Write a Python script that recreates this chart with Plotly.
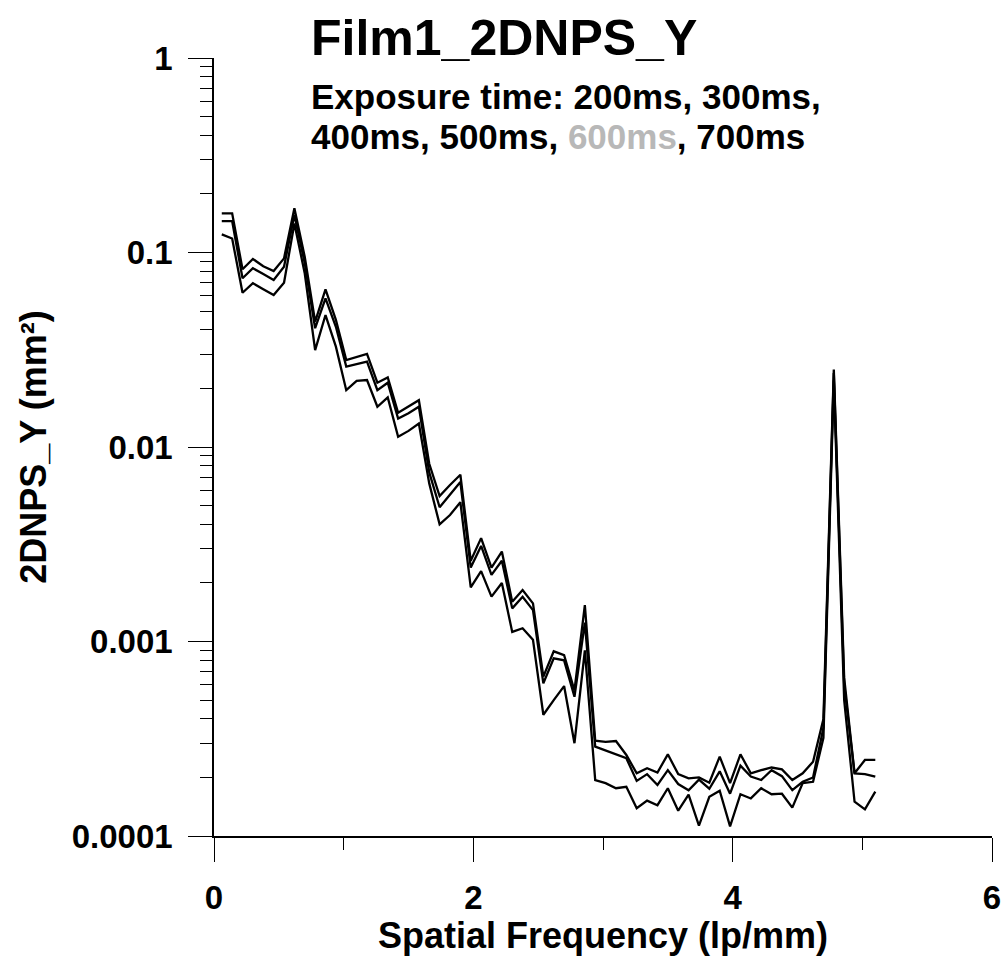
import plotly.graph_objects as go

# Spatial frequency samples (lp/mm)
freq = [0.06, 0.14, 0.22, 0.30, 0.38, 0.46, 0.54, 0.62, 0.70, 0.78,
        0.86, 0.94, 1.02, 1.10, 1.18, 1.26, 1.34, 1.42, 1.50, 1.58,
        1.66, 1.74, 1.82, 1.90, 1.98, 2.06, 2.14, 2.22, 2.30, 2.38,
        2.46, 2.54, 2.62, 2.70, 2.78, 2.86, 2.94, 3.02, 3.10, 3.18,
        3.26, 3.34, 3.42, 3.50, 3.58, 3.66, 3.74, 3.82, 3.90, 3.98,
        4.06, 4.14, 4.22, 4.30, 4.38, 4.46, 4.54, 4.62, 4.70, 4.78,
        4.86, 4.94, 5.02, 5.10]

# Upper curve
nps_upper = [0.159, 0.159, 0.082, 0.0926, 0.085, 0.0803, 0.0933, 0.169, 0.0948, 0.0441,
             0.0647, 0.045, 0.028, 0.0291, 0.0301, 0.0214, 0.0228, 0.015, 0.0161, 0.0174,
             0.0082, 0.0056, 0.00638, 0.0072, 0.0026, 0.0034, 0.0024, 0.0029, 0.0016, 0.00184,
             0.00157, 0.00066, 0.00089, 0.00085, 0.00056, 0.00154, 0.000309, 0.000305, 0.000308, 0.000261,
             0.00021, 0.000223, 0.000212, 0.000263, 0.000208, 0.000198, 0.0002, 0.000188, 0.000256, 0.000187,
             0.000263, 0.00021, 0.000218, 0.000225, 0.00022, 0.000194, 0.00021, 0.000241, 0.0004, 0.025,
             0.00065, 0.00021, 0.000246, 0.000246]

# Middle curve
nps_middle = [0.145, 0.145, 0.0737, 0.083, 0.0775, 0.0722, 0.0845, 0.156, 0.088, 0.0408,
              0.0581, 0.0415, 0.0259, 0.0267, 0.0275, 0.0196, 0.0214, 0.014, 0.0149, 0.0161,
              0.0074, 0.0049, 0.00566, 0.0066, 0.0024, 0.0031, 0.0022, 0.0026, 0.00148, 0.0017,
              0.00145, 0.00061, 0.00082, 0.0008, 0.00052, 0.00125, 0.000288, 0.000275, 0.000265, 0.000251,
              0.000192, 0.000208, 0.000183, 0.000218, 0.000185, 0.000172, 0.000195, 0.000175, 0.000215, 0.000165,
              0.00023, 0.000202, 0.000194, 0.000218, 0.000203, 0.000172, 0.00019, 0.0002, 0.00036, 0.024,
              0.0006, 0.00021, 0.000208, 0.000202]

# Lower curve
nps_lower = [0.124, 0.118, 0.0621, 0.0695, 0.0647, 0.0604, 0.07, 0.141, 0.078, 0.0315,
             0.0477, 0.0328, 0.0196, 0.0219, 0.0221, 0.0161, 0.018, 0.0113, 0.0121, 0.0132,
             0.0065, 0.004, 0.00447, 0.0052, 0.0019, 0.0023, 0.0017, 0.002, 0.00112, 0.00117,
             0.00102, 0.00042, 0.0005, 0.00059, 0.0003, 0.0009, 0.000194, 0.000187, 0.000176, 0.000179,
             0.000139, 0.000152, 0.000144, 0.000176, 0.000135, 0.000163, 0.000113, 0.000159, 0.000171, 0.000112,
             0.000164, 0.000156, 0.000176, 0.000164, 0.000165, 0.00014, 0.000187, 0.00019, 0.00032, 0.022,
             0.0005, 0.00015, 0.000137, 0.000169]

y_tickvals = [0.0001, 0.001, 0.01, 0.1, 1]
y_ticktext = ["0.0001", "0.001", "0.01", "0.1", "1"]
x_tickvals = [0, 2, 4, 6]

FONT = "Liberation Sans, Arial, sans-serif"

fig = go.Figure()
for name, vals in [("upper", nps_upper), ("middle", nps_middle), ("lower", nps_lower)]:
    fig.add_trace(go.Scatter(x=freq, y=vals, mode="lines", name=name,
                             line=dict(color="black", width=2.3), showlegend=False))

fig.update_layout(
    width=1002, height=956,
    margin=dict(l=214, r=10, t=58, b=120, autoexpand=False),
    paper_bgcolor="white", plot_bgcolor="white",
    font=dict(family=FONT, color="black"),
    showlegend=False,
)

fig.update_xaxes(
    range=[0, 6], tickvals=x_tickvals, ticktext=[str(v) for v in x_tickvals],
    automargin=False,
    showline=True, linecolor="black", linewidth=1.5, mirror=False,
    ticks="outside", ticklen=24, tickwidth=1.2, tickcolor="black",
    minor=dict(dtick=1, ticks="outside", ticklen=12, tickwidth=1.2, tickcolor="black"),
    showgrid=False, zeroline=False,
    tickfont=dict(size=33, family=FONT, weight="bold"),
    ticklabelstandoff=8,
    title=dict(text="<b>Spatial Frequency (lp/mm)</b>", font=dict(size=36, family=FONT), standoff=10),
)

fig.update_yaxes(
    type="log", range=[-4, 0], tickvals=y_tickvals, ticktext=y_ticktext,
    automargin=False,
    showline=True, linecolor="black", linewidth=1.5,
    ticks="outside", ticklen=24, tickwidth=1.2, tickcolor="black",
    minor=dict(dtick="D1", ticks="outside", ticklen=12, tickwidth=1.2, tickcolor="black", showgrid=False),
    showgrid=False, zeroline=False,
    tickfont=dict(size=33, family=FONT, weight="bold"),
    ticklabelstandoff=9,
    title=dict(text="<b>2DNPS_Y (mm²)</b>", font=dict(size=36, family=FONT), standoff=14),
)

fig.add_annotation(
    text="<b>Film1_2DNPS_Y</b>", xref="paper", yref="paper",
    x=0.122, y=1.026, xanchor="left", yanchor="middle", showarrow=False,
    font=dict(size=50, family=FONT, color="black"),
)
fig.add_annotation(
    text="<b>Exposure time: 200ms, 300ms,</b>",
    xref="paper", yref="paper", x=0.122, y=0.950, xanchor="left", yanchor="middle",
    align="left", showarrow=False,
    font=dict(size=35, family=FONT, color="black"),
)
fig.add_annotation(
    text="<b>400ms, 500ms, <span style='color:#b8b8b8'>600ms</span>, 700ms</b>",
    xref="paper", yref="paper", x=0.122, y=0.8985, xanchor="left", yanchor="middle",
    align="left", showarrow=False,
    font=dict(size=35, family=FONT, color="black"),
)

fig.write_html("out.html")
